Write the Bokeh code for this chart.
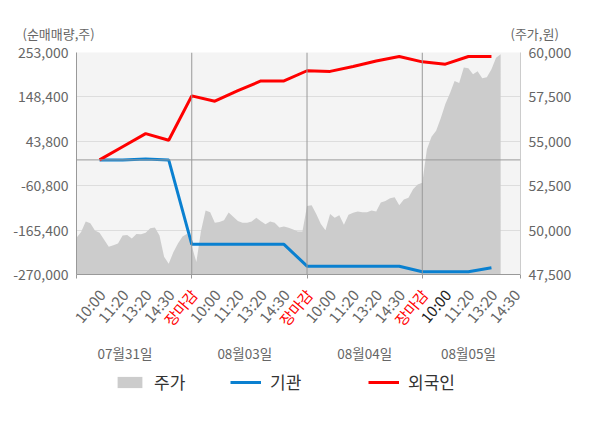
from bokeh.plotting import figure
from bokeh.models import (Range1d, LinearAxis, FixedTicker, NumeralTickFormatter,
                          Span, Legend, LegendItem)
from bokeh.core.properties import value
from bokeh.embed import file_html
from bokeh.resources import INLINE

FONT = "Noto Sans CJK KR"

# ---------------- data ----------------
day_labels = ["07월31일", "08월03일", "08월04일", "08월05일"]
time_labels = ["10:00", "11:20", "13:20", "14:30", "장마감"]
last_day_times = ["10:00", "11:20", "13:20", "14:30"]
current_label = "10:00"   # highlighted label of the last day
left_title = "(순매매량,주)"
right_title = "(주가,원)"
series_names = ["주가", "기관", "외국인"]

# share price (원), sampled 5 times per time step
price_day1 = [49566, 49900, 50480, 50380, 49980, 49848, 49450, 49060, 49150, 49250,
              49700, 49720, 49520, 49780, 49760, 49850, 50100, 50150, 49700, 48500,
              48100, 48750, 49250, 49640, 49800]
price_day2 = [49100, 48200, 49950, 51100, 51000, 50420, 50450, 50550, 50990, 50750,
              50506, 50412, 50412, 50480, 50694, 50500, 50330, 50480, 50412, 50150,
              50200, 50130, 50030, 49920, 49920]
price_day3 = [51350, 51400, 50900, 50350, 49990, 50900, 50700, 50830, 50300, 50860,
              50976, 51050, 51000, 51000, 51100, 51050, 51550, 51632, 51800, 51850,
              51400, 51720, 51820, 52300, 52570]
price_day4 = [52668, 54550, 55250, 55600, 56300, 57100, 57700, 58400, 58280, 59154,
              59120, 58778, 58950, 58550, 58600, 59050, 59700, 59900]

# cumulative net buying (주) at each labelled time
foreign = [0, 31000, 61900, 46200, 150800, 138200, 163000, 186000, 186000, 210000,
           208500, 220000, 233000, 243500, 231000, 225500, 243500, 243500]
institution = [0, 0, 2000, 0, -199000, -199000, -199000, -199000, -199000, -250400,
               -250400, -250400, -250400, -250400, -263600, -263600, -263600, -254200]

left_ticks = [-270000, -165400, -60800, 43800, 148400, 253000]
right_ticks = [47500, 50000, 52500, 55000, 57500, 60000]

# ---------------- derived positions ----------------
STEPS = len(time_labels)          # time steps per day
SUB = 5                           # price samples per step
price_days = [price_day1, price_day2, price_day3, price_day4]
px, py = [], []
for d, arr in enumerate(price_days):
    for k, v in enumerate(arr):
        px.append(d * STEPS + k / SUB)
        py.append(v)

tick_pos, tick_txt, tick_col = [], [], []
for d in range(len(day_labels)):
    last = d == len(day_labels) - 1
    names = last_day_times if last else time_labels
    for i, t in enumerate(names):
        tick_pos.append(d * STEPS + i + 1)
        tick_txt.append(t)
        if t == time_labels[-1]:
            tick_col.append("#ff0000")
        elif last and t == current_label:
            tick_col.append("#222222")
        else:
            tick_col.append("#666666")
flow_x = tick_pos[:len(foreign)]

x_end = (len(day_labels) - 1) * STEPS + 4.26
date_pos = [2.1, 7.3, 12.5, 17.0]

# ---------------- layout constants (pixels) ----------------
W = 600
HEAD_H = 42
FL, FR, FT, FB = 76, 80, 10, 9
FW, FH = 444, 222
BOT_TOP = HEAD_H + FT + FH + FB
BOT_H = 428 - BOT_TOP
s = FW / x_end                     # px per x unit
label_color = "#666666"
BLUE, RED, GREY = "#0a80d0", "#ff0000", "#cccccc"


def bare(fig):
    fig.xaxis.visible = False
    fig.yaxis.visible = False
    fig.xgrid.visible = False
    fig.ygrid.visible = False
    fig.outline_line_color = None
    fig.background_fill_color = "white"
    fig.border_fill_color = "white"


# ---------------- header (axis titles) ----------------
head = figure(width=W, height=HEAD_H, output_backend="svg", toolbar_location=None,
              x_range=Range1d(0, W), y_range=Range1d(0, HEAD_H),
              x_axis_location=None, y_axis_location=None,
              min_border_left=0, min_border_right=0,
              min_border_top=0, min_border_bottom=0)
bare(head)
head.text(x=[22], y=[HEAD_H - 33], text=[left_title], text_align="left",
          text_baseline="middle", text_color=label_color, text_font=value(FONT),
          text_font_size="13px")
head.text(x=[510], y=[HEAD_H - 33], text=[right_title], text_align="left",
          text_baseline="middle", text_color=label_color, text_font=value(FONT),
          text_font_size="13px")

# ---------------- main chart ----------------
p = figure(frame_width=FW, frame_height=FH, output_backend="svg", toolbar_location=None,
           x_range=Range1d(0, x_end), y_range=Range1d(left_ticks[0], left_ticks[-1]),
           min_border_left=FL, min_border_right=FR, min_border_top=FT,
           min_border_bottom=FB, x_axis_location=None, y_axis_location=None)
p.extra_y_ranges = {"price": Range1d(right_ticks[0], right_ticks[-1])}
p.background_fill_color = "#f4f4f4"
p.border_fill_color = "white"
p.outline_line_color = None
p.xgrid.visible = False
p.ygrid.ticker = FixedTicker(ticks=left_ticks)
p.ygrid.grid_line_color = "#dddddd"

ly = LinearAxis(ticker=FixedTicker(ticks=left_ticks, minor_ticks=[]),
                formatter=NumeralTickFormatter(format="0,0"))
ry = LinearAxis(y_range_name="price", ticker=FixedTicker(ticks=right_ticks, minor_ticks=[]),
                formatter=NumeralTickFormatter(format="0,0"))
for ax, col in ((ly, "#999999"), (ry, "#cccccc")):
    ax.axis_line_color = col
    ax.major_tick_line_color = None
    ax.minor_tick_line_color = None
    ax.major_tick_in = 0
    ax.major_tick_out = 0
    ax.major_label_text_font = FONT
    ax.major_label_text_font_size = "14px"
    ax.major_label_text_color = label_color
    ax.major_label_standoff = 8
p.add_layout(ly, "left")
p.add_layout(ry, "right")

bx = LinearAxis(ticker=FixedTicker(ticks=[],
                                   minor_ticks=[0, STEPS, 2 * STEPS, 3 * STEPS, x_end]))
bx.axis_line_color = "#999999"
bx.major_tick_line_color = None
bx.minor_tick_line_color = "#999999"
bx.minor_tick_in = 0
bx.minor_tick_out = 4
bx.major_tick_in = 0
bx.major_tick_out = 0
bx.major_label_standoff = 0
bx.major_label_text_font_size = "0px"
p.add_layout(bx, "below")

p.varea(x=px, y1=right_ticks[0], y2=py, y_range_name="price", fill_color=GREY)
p.line(flow_x, institution, line_color=BLUE, line_width=3)
p.line(flow_x, foreign, line_color=RED, line_width=3)

for d in range(1, len(day_labels)):
    p.add_layout(Span(location=d * STEPS, dimension="height",
                      line_color="#999999", line_width=1))
p.add_layout(Span(location=0, dimension="width", line_color="#999999", line_width=1))

# ---------------- bottom (time labels, dates, legend) ----------------
bot = figure(width=W, height=BOT_H, output_backend="svg", toolbar_location=None,
             x_range=Range1d(-FL / s, (W - FL) / s), y_range=Range1d(0, BOT_H),
             x_axis_location=None, y_axis_location=None,
             min_border_left=0, min_border_right=0,
             min_border_top=0, min_border_bottom=0)
bare(bot)
bot.text(x=tick_pos, y=[BOT_TOP + BOT_H - 291] * len(tick_pos), text=tick_txt,
         angle=0.87, text_align="right", text_baseline="middle", x_offset=2,
         text_color=tick_col, text_font=value(FONT), text_font_size="15px")
bot.text(x=date_pos, y=[BOT_TOP + BOT_H - 352] * len(date_pos), text=day_labels,
         text_align="center", text_baseline="middle", text_color=label_color,
         text_font=value(FONT), text_font_size="13.5px")

# legend keys: the same series on a y range that is out of view
bot.extra_y_ranges = {"off": Range1d(10 ** 9, 10 ** 9 + 1)}
k_area = bot.varea(x=px, y1=right_ticks[0], y2=py, y_range_name="off", fill_color=GREY)
k_blue = bot.line(flow_x, institution, y_range_name="off", line_color=BLUE, line_width=3)
k_red = bot.line(flow_x, foreign, y_range_name="off", line_color=RED, line_width=3)
legend_x = [114, 230, 368]
for rend, name, lx in zip((k_area, k_blue, k_red), series_names, legend_x):
    lg = Legend(items=[LegendItem(label=name, renderers=[rend])],
                location=(lx, BOT_TOP + BOT_H - 394), orientation="horizontal")
    lg.label_text_font = FONT
    lg.label_text_font_size = "17px"
    lg.label_text_color = "#333333"
    lg.glyph_width = 31
    lg.glyph_height = 14
    lg.label_height = 14
    lg.label_standoff = 9
    lg.padding = 0
    lg.margin = 0
    lg.border_line_color = None
    lg.background_fill_alpha = 0
    bot.add_layout(lg)

open("out.html", "w").write(file_html([head, p, bot], INLINE))
